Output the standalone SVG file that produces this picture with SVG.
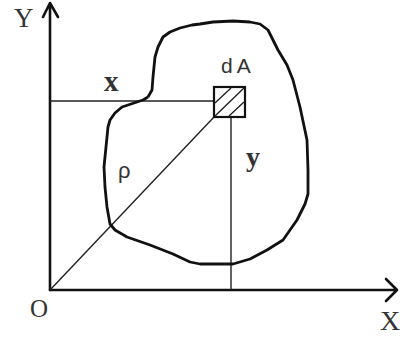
<svg xmlns="http://www.w3.org/2000/svg" width="400" height="337" viewBox="0 0 400 337">
<style>
.axis{stroke:#111;stroke-width:2.6;fill:none;stroke-linecap:round;stroke-linejoin:round}
.thin{stroke:#222;stroke-width:1.4;fill:none}
.blob{stroke:#111;stroke-width:2.8;fill:none;stroke-linejoin:round}
.serif{font-family:"Liberation Serif","Times New Roman",serif;fill:#333}
.sans{font-family:"Liberation Sans",Arial,sans-serif;fill:#333}
</style>
<rect width="400" height="337" fill="#fff"/>
<g id="connectors">
<path class="axis" d="M50,290 V3 M43,17 L50,3 L58,17"/>
<path class="axis" d="M50,290 H397 M386,279 L397,290 L386,301"/>
<line class="thin" x1="50" y1="101" x2="214" y2="101"/>
<line class="thin" x1="231" y1="117" x2="231" y2="290"/>
<line class="thin" x1="50" y1="290" x2="214" y2="117"/>
</g>
<g id="region">
<polyline class="blob" points="148,97 152,90 153,77 155,57 158,47 163,37 170,32 180,28 192,25 200,24 213,22 233,21 250,22 260,24 268,30 273,40 278,50 287,65 293,80 300,107 307,140 308,170 308,194 305,204 297,220 283,240 267,250 250,259 233,264 200,264 190,262 173,254 150,245 127,237 115,230 110,224 107,207 105,187 104,167 108,127 110,120 115,113 122,107 128,105 137,102 143,100 148,97"/>
</g>
<g id="dA">
<rect x="214" y="87" width="31" height="30" fill="none" stroke="#111" stroke-width="2.2"/>
<path class="thin" d="M215,103 L231,88 M215,116 L244,88 M229,116 L244,102"/>
<text class="sans" x="221" y="73" font-size="21" letter-spacing="4">dA</text>
</g>
<g id="labels">
<text class="serif" x="14" y="27" font-size="27">Y</text>
<text class="serif" x="380" y="330" font-size="28">X</text>
<text class="serif" x="30" y="317" font-size="25">O</text>
<text class="serif" x="104" y="91" font-size="29" font-weight="bold">x</text>
<text class="serif" x="246" y="166" font-size="28" font-weight="bold">y</text>
<text class="sans" x="118" y="178" font-size="22">ρ</text>
</g>
</svg>
